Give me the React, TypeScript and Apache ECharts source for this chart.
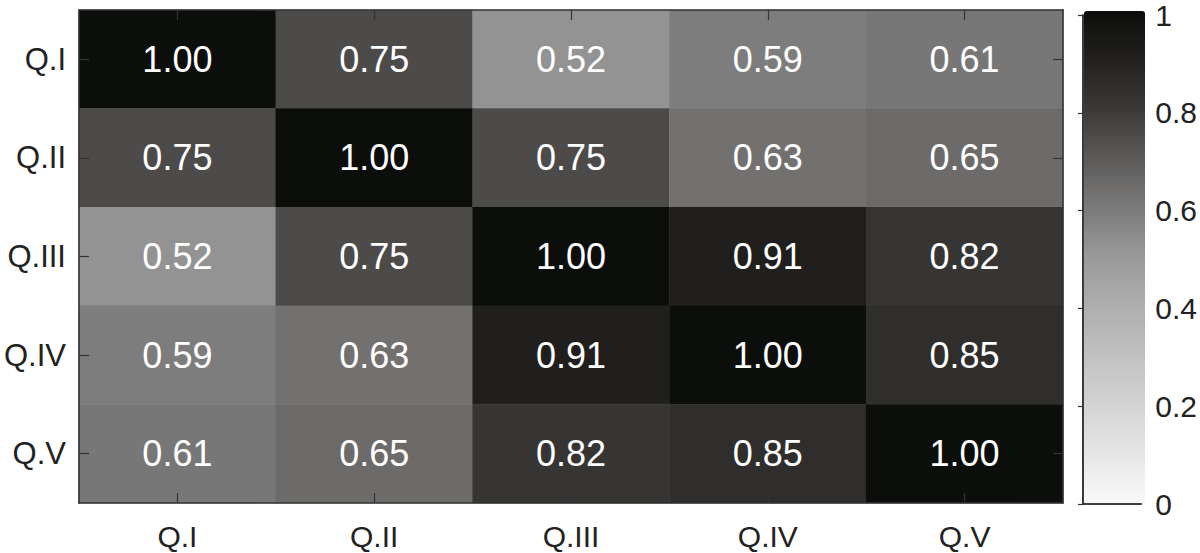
import React, { useEffect, useRef } from "react";
import * as echarts from "echarts";

const questions = ["Q.I", "Q.II", "Q.III", "Q.IV", "Q.V"];
const rowQI = [1.0, 0.75, 0.52, 0.59, 0.61];
const rowQII = [0.75, 1.0, 0.75, 0.63, 0.65];
const rowQIII = [0.52, 0.75, 1.0, 0.91, 0.82];
const rowQIV = [0.59, 0.63, 0.91, 1.0, 0.85];
const rowQV = [0.61, 0.65, 0.82, 0.85, 1.0];
const matrixRows = [rowQI, rowQII, rowQIII, rowQIV, rowQV];
const colorbarMin = 0;
const colorbarMax = 1;
const colorbarStep = 0.2;
const grayStops = [
  "#f9f9f9", "#e6e6e6", "#d3d3d3", "#c0c0c0", "#aeaeae", "#999999",
  "#7b7a7a", "#5c5b5a", "#3c3a38", "#222120", "#0c0e0c",
];

const FONT = "'Liberation Sans', Arial, Helvetica, sans-serif";
const AXIS_COLOR = "#333333";

export default function App() {
  const ref = useRef<HTMLDivElement>(null);

  useEffect(() => {
    if (!ref.current) return;
    const chart = echarts.init(ref.current, undefined, { renderer: "svg" });

    const data: [number, number, number][] = [];
    matrixRows.forEach((row, r) => {
      row.forEach((v, c) => data.push([c, r, v]));
    });

    const tickStyle = { color: AXIS_COLOR, width: 1.2 };
    const lineStyle = { color: AXIS_COLOR, width: 1.6 };

    chart.setOption({
      animation: false,
      backgroundColor: "#ffffff",
      grid: [
        { left: 79, top: 10, width: 984, height: 493 },
        { left: 1083, top: 10, width: 63, height: 494 },
      ],
      xAxis: [
        {
          type: "category",
          gridIndex: 0,
          position: "bottom",
          data: questions,
          axisLine: { show: true, lineStyle },
          axisTick: { show: true, inside: true, alignWithLabel: true, length: 10, lineStyle: tickStyle },
          axisLabel: { fontSize: 30, color: "#222", margin: 18, fontFamily: FONT },
          splitLine: { show: false },
          z: 5,
        },
        {
          type: "category",
          gridIndex: 0,
          position: "top",
          data: questions,
          axisLine: { show: true, lineStyle },
          axisTick: { show: true, inside: true, alignWithLabel: true, length: 10, lineStyle: tickStyle },
          axisLabel: { show: false },
          splitLine: { show: false },
          z: 5,
        },
        {
          type: "value",
          gridIndex: 1,
          position: "bottom",
          min: 0,
          max: 1,
          axisLine: { show: true, lineStyle },
          axisTick: { show: false },
          axisLabel: { show: false },
          splitLine: { show: false },
        },
        {
          type: "value",
          gridIndex: 1,
          position: "top",
          min: 0,
          max: 1,
          axisLine: { show: true, lineStyle },
          axisTick: { show: false },
          axisLabel: { show: false },
          splitLine: { show: false },
        },
      ],
      yAxis: [
        {
          type: "category",
          gridIndex: 0,
          position: "left",
          inverse: true,
          data: questions,
          axisLine: { show: true, lineStyle },
          axisTick: { show: true, inside: true, alignWithLabel: true, length: 10, lineStyle: tickStyle },
          axisLabel: { fontSize: 31, color: "#222", margin: 13, fontFamily: FONT },
          splitLine: { show: false },
          z: 5,
        },
        {
          type: "category",
          gridIndex: 0,
          position: "right",
          inverse: true,
          data: questions,
          axisLine: { show: true, lineStyle },
          axisTick: { show: true, inside: true, alignWithLabel: true, length: 10, lineStyle: tickStyle },
          axisLabel: { show: false },
          splitLine: { show: false },
          z: 5,
        },
        {
          type: "value",
          gridIndex: 1,
          position: "right",
          min: colorbarMin,
          max: colorbarMax,
          interval: colorbarStep,
          axisLine: { show: true, lineStyle },
          axisTick: { show: true, inside: true, length: 5, lineStyle: tickStyle },
          axisLabel: {
            fontSize: 30,
            color: "#222",
            margin: 14,
            fontFamily: FONT,
            formatter: (v: number) => String(Math.round(v * 10) / 10),
          },
          splitLine: { show: false },
          z: 5,
        },
        {
          type: "value",
          gridIndex: 1,
          position: "left",
          min: colorbarMin,
          max: colorbarMax,
          axisLine: { show: true, lineStyle },
          axisTick: { show: false },
          axisLabel: { show: false },
          splitLine: { show: false },
        },
      ],
      visualMap: {
        type: "continuous",
        min: colorbarMin,
        max: colorbarMax,
        seriesIndex: 0,
        orient: "vertical",
        left: 1084,
        top: 11,
        itemWidth: 61,
        itemHeight: 492,
        padding: 0,
        calculable: false,
        hoverLink: false,
        inRange: { color: grayStops },
        textStyle: { color: "transparent" },
        z: 1,
      },
      series: [
        {
          type: "heatmap",
          xAxisIndex: 0,
          yAxisIndex: 0,
          data,
          itemStyle: { borderWidth: 0 },
          label: {
            show: true,
            color: "#ffffff",
            fontSize: 36,
            fontFamily: FONT,
            formatter: (p: any) => (p.value[2] as number).toFixed(2),
          },
          emphasis: { disabled: true },
        },
      ],
    });

    return () => chart.dispose();
  }, []);

  return (
    <div
      ref={ref}
      style={{ position: "fixed", left: 0, top: 0, width: 1200, height: 553 }}
    />
  );
}
